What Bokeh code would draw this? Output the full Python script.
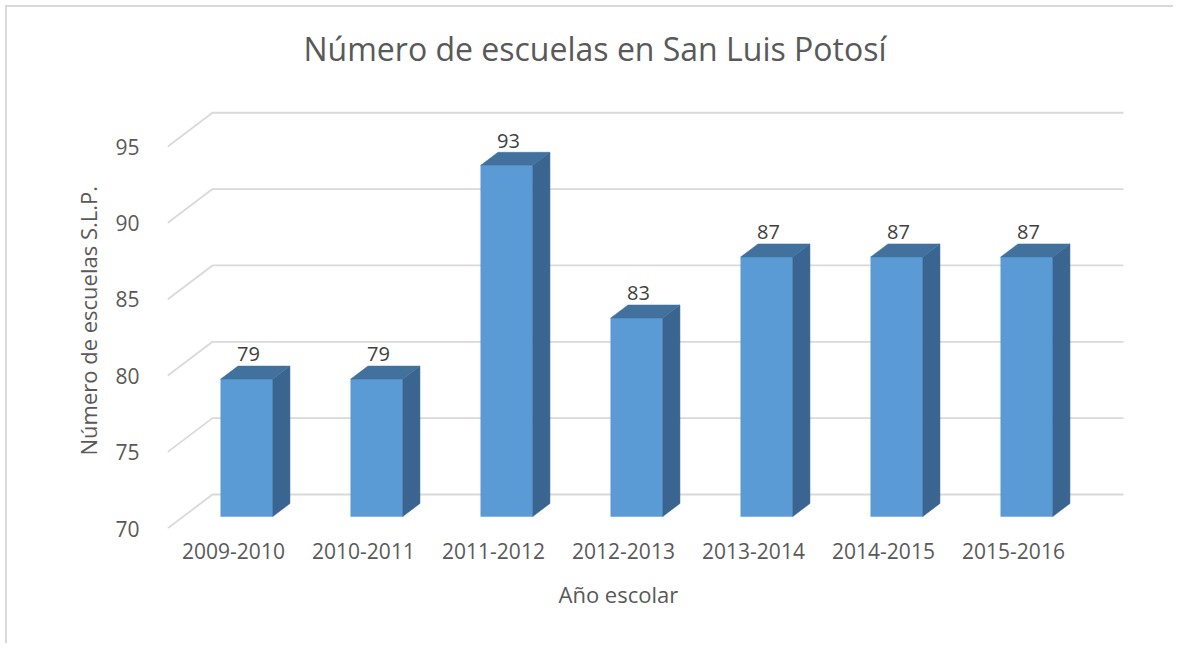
from bokeh.plotting import figure
from bokeh.models import Range1d, FixedTicker, ColumnDataSource, Title
from bokeh.core.properties import value
from bokeh.embed import file_html
from bokeh.resources import INLINE

# ---- data ----
years = ["2009-2010", "2010-2011", "2011-2012", "2012-2013", "2013-2014", "2014-2015", "2015-2016"]
schools = [79, 79, 93, 83, 87, 87, 87]
y_ticks = [70, 75, 80, 85, 90, 95]

TITLE = "Número de escuelas en San Luis Potosí"
X_LABEL = "Año escolar"
Y_LABEL = "Número de escuelas S.L.P."

# ---- 3-D look (offsets in data units) ----
BASE = 70
DX, DY = 0.346, 2.227           # floor depth: front edge -> back wall
F_DEPTH, B_DEPTH = 0.353, 0.735  # bar front / back face depth fraction
HALF_W = 0.2
SHIFT = -0.02
FONT = "Open Sans"
TXT = "#595959"

p = figure(width=1168, height=638,
           x_range=Range1d(-0.5077, 6.9077), y_range=Range1d(BASE, 99.6),
           output_backend="svg", toolbar_location=None,
           min_border_left=160, min_border_right=44,
           min_border_top=69, min_border_bottom=117)
# chart-area border (only top and left edges are visible in the source)
p.styles = {"margin-left": "5px", "margin-top": "5px",
            "border-top": "2px solid #D9D9D9", "border-left": "2px solid #D9D9D9"}

p.add_layout(Title(text=TITLE, text_font=FONT, text_font_size="32px",
                   text_font_style="normal", text_color=TXT,
                   align="left", offset=136, standoff=13), "above")

p.outline_line_color = None
p.xgrid.visible = False
p.ygrid.visible = False
p.background_fill_color = "white"
p.border_fill_color = "white"

# gridlines: slanted side wall + back wall
x_left = -0.5077
x_right = 6.5
g_xs = [[x_left, x_left + DX, x_right + DX] for t in y_ticks]
g_ys = [[t, t + DY, t + DY] for t in y_ticks]
p.multi_line(g_xs, g_ys, line_color="#D9D9D9", line_width=1.8)

# bars
idx = list(range(len(years)))
fx, fy = F_DEPTH * DX, F_DEPTH * DY
bx, by = B_DEPTH * DX, B_DEPTH * DY
front = ColumnDataSource(dict(
    left=[i - HALF_W + fx + SHIFT for i in idx],
    right=[i + HALF_W + fx + SHIFT for i in idx],
    bottom=[BASE + fy for i in idx],
    top=[v + fy for v in schools]))
p.quad(left="left", right="right", bottom="bottom", top="top", source=front,
       fill_color="#5B9BD5", line_color="#5B9BD5", line_width=0.5)

side_xs, side_ys, top_xs, top_ys = [], [], [], []
for i, v in zip(idx, schools):
    lf, rf = i - HALF_W + fx + SHIFT, i + HALF_W + fx + SHIFT
    lb, rb = i - HALF_W + bx + SHIFT, i + HALF_W + bx + SHIFT
    side_xs.append([rf, rb, rb, rf])
    side_ys.append([BASE + fy, BASE + by, v + by, v + fy])
    top_xs.append([lf, lb, rb, rf])
    top_ys.append([v + fy, v + by, v + by, v + fy])
p.patches(side_xs, side_ys, fill_color="#3A6591", line_color="#3A6591", line_width=0.5)
p.patches(top_xs, top_ys, fill_color="#41719C", line_color="#41719C", line_width=0.5)

# value labels
p.text(x=[i + 0.115 for i in idx], y=[v + 2.4 for v in schools],
       text=[str(v) for v in schools],
       text_font=value(FONT), text_font_size="20px", text_color="#404040",
       text_align="center", text_baseline="middle")

# axes
xa = p.xaxis[0]
xa.ticker = FixedTicker(ticks=idx)
xa.major_label_overrides = {i: y for i, y in zip(idx, years)}
ya = p.yaxis[0]
ya.ticker = FixedTicker(ticks=y_ticks)
for ax in (xa, ya):
    ax.axis_line_color = None
    ax.major_tick_line_color = None
    ax.minor_tick_line_color = None
    ax.major_tick_out = 0
    ax.major_tick_in = 0
    ax.minor_tick_out = 0
    ax.major_label_text_font = FONT
    ax.major_label_text_font_size = "21px"
    ax.major_label_text_color = TXT
xa.major_label_standoff = 14
ya.major_label_standoff = 28

# axis titles
p.add_layout(Title(text=X_LABEL, text_font=FONT, text_font_size="22px",
                   text_font_style="normal", text_color=TXT,
                   align="left", offset=391, standoff=30), "below")
p.add_layout(Title(text=Y_LABEL, text_font=FONT, text_font_size="22px",
                   text_font_style="normal", text_color=TXT,
                   align="left", offset=73, standoff=20), "left")

open("out.html", "w").write(file_html(p, INLINE))
